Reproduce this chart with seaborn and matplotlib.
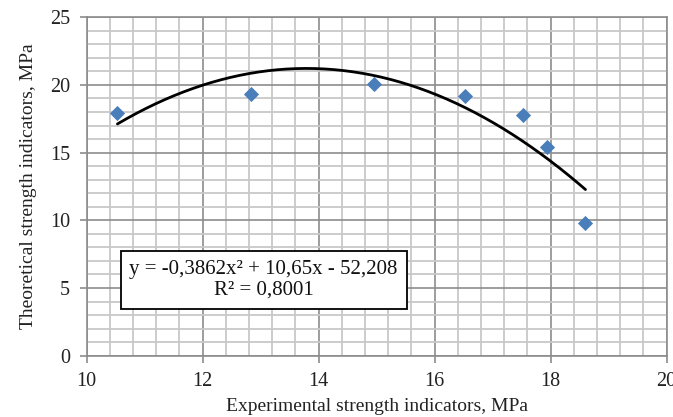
import numpy as np
import pandas as pd
import matplotlib
matplotlib.use("Agg")
import matplotlib.pyplot as plt
from matplotlib.ticker import MultipleLocator
import seaborn as sns

# Measured vs. theoretical strength (MPa)
experimental = [10.53, 12.83, 14.95, 16.53, 17.52, 17.93, 18.60]
theoretical = [17.95, 19.33, 20.05, 19.18, 17.80, 15.44, 9.82]

# Polynomial trend line coefficients (a*x^2 + b*x + c) and fit quality
trend_coef = [-0.3862, 10.65, -52.208]
r_squared = 0.8001

x_ticks = [10, 12, 14, 16, 18, 20]
y_ticks = [0, 5, 10, 15, 20, 25]

sns.set_theme(style="white")
plt.rcParams["font.family"] = ["Liberation Serif", "DejaVu Serif"]

fig = plt.figure(figsize=(6.73, 4.17), dpi=100)
ax = fig.add_axes([0.1288, 0.147, 0.8618, 0.8118])

df = pd.DataFrame({"x": experimental, "y": theoretical})
xs = np.linspace(min(experimental), max(experimental), 200)
trend = pd.DataFrame({"x": xs, "y": np.polyval(trend_coef, xs)})

sns.lineplot(data=trend, x="x", y="y", ax=ax, color="black", linewidth=2.0, zorder=3)
sns.scatterplot(data=df, x="x", y="y", ax=ax, marker="D", s=60, color="#4a7ebb",
                edgecolor="#4a7ebb", linewidth=0, zorder=4)

ax.set_xlim(10, 20)
ax.set_ylim(0, 25)
ax.set_xticks(x_ticks)
ax.set_yticks(y_ticks)
ax.xaxis.set_minor_locator(MultipleLocator(0.4))
ax.yaxis.set_minor_locator(MultipleLocator(1))
ax.grid(which="minor", color="#c8c8c8", linewidth=1.3, zorder=0)
ax.grid(which="major", color="#8c8c8c", linewidth=1.2, zorder=1)
ax.set_axisbelow(True)

for side in ["left", "bottom", "right", "top"]:
    ax.spines[side].set_color("#8c8c8c")
    ax.spines[side].set_linewidth(1.2)

ax.tick_params(axis="both", which="major", direction="out", length=5, width=1.2,
               color="#8c8c8c", labelsize=14.5, labelcolor="#222222",
               bottom=True, left=True)
ax.tick_params(axis="y", pad=7)
ax.tick_params(axis="x", pad=7)
ax.tick_params(which="minor", length=0)

ax.set_xlabel("Experimental strength indicators, MPa", fontsize=14, color="#222222", labelpad=5)
ax.set_ylabel("Theoretical strength indicators, MPa", fontsize=14, color="#222222", labelpad=9)

a, b, c = trend_coef
eq = (f"y = {a:.4f}x² + {b:.2f}x - {abs(c):.3f}".replace(".", ",")
      + "\n" + f"R² = {r_squared:.4f}".replace(".", ","))
ax.text(0.305, 0.224, eq, transform=ax.transAxes, fontsize=15, ha="center",
        va="center", linespacing=1.15, color="#111111", zorder=5,
        bbox=dict(boxstyle="square,pad=0.42", facecolor="white", edgecolor="black", linewidth=1.3))

fig.savefig("out.png", dpi=100)
